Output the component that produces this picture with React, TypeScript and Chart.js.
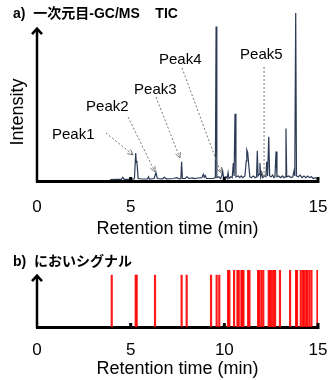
import React, { useEffect, useRef } from 'react';
import { Chart, registerables } from 'chart.js';

Chart.register(...registerables);

// ---- Data ----
const X_TICKS = [0, 5, 10, 15];

// TIC chromatogram (retention time in min, relative intensity %)
const TIC_TIME = [
  3.90, 4.20, 4.50, 4.58, 4.65, 5.00, 5.20, 5.27, 5.30, 5.33, 5.40, 5.60, 5.90, 5.95, 6.00,
  6.25, 6.35, 6.42, 6.70, 6.80, 6.90, 7.30, 7.45, 7.60, 7.68, 7.72, 7.76, 7.90, 8.00, 8.10,
  8.30, 8.40, 8.60, 8.80, 8.88, 8.93, 8.98, 9.05, 9.40, 9.52, 9.56, 9.60, 9.70, 9.80, 9.86,
  9.91, 9.96, 10.10, 10.15, 10.20, 10.25, 10.35, 10.42, 10.48, 10.52, 10.57, 10.62, 10.75, 10.82, 10.90,
  10.98, 11.10, 11.17, 11.20, 11.25, 11.30, 11.36, 11.45, 11.55, 11.65, 11.72, 11.76, 11.80, 11.86, 11.90,
  11.94, 11.99, 12.04, 12.15, 12.22, 12.26, 12.31, 12.37, 12.42, 12.50, 12.58, 12.65, 12.70, 12.76, 12.81,
  12.90, 13.00, 13.10, 13.18, 13.25, 13.29, 13.33, 13.45, 13.55, 13.65, 13.72, 13.76, 13.81, 13.85, 13.95,
  14.05, 14.15, 14.25, 14.35, 14.45, 14.55, 14.65, 14.75, 14.85, 14.93,
];
const TIC_INTENSITY = [
  0.8, 1.0, 1.0, 2.2, 1.0, 1.0, 1.3, 16.7, 11, 12, 1.5, 1.2, 1.2, 2.5, 1.2,
  1.5, 5, 1.5, 1.3, 2.2, 1.3, 1.5, 2, 1.3, 1.5, 11.5, 1.5, 1.5, 2.5, 1.5,
  1.8, 1.4, 1.8, 2, 4, 2.2, 3.2, 1.5, 1.5, 2, 92, 2, 2.5, 1.5, 3,
  6, 2, 2.5, 1.5, 5, 1.5, 2.5, 2, 10.7, 3, 40, 2.5, 3, 2, 3,
  2, 3, 12, 18.5, 16.7, 10, 2.5, 2, 3, 2, 2.5, 18, 3, 4, 10.7,
  2.5, 5, 2, 3, 2.5, 11.5, 3, 26.4, 3, 2.5, 3.5, 2, 2.5, 17.5, 2.5,
  3, 2, 3, 2, 2.5, 31.3, 2.5, 3, 2, 2.5, 6, 3, 100, 3, 2.5,
  3.5, 2, 3, 2, 3, 2, 2.5, 1.5, 2, 1.5,
];

// Odour signals (retention time in min, signal level)
const ODOR_TIME = [
  3.99, 5.27, 5.32, 6.30, 7.72, 7.99, 9.29, 9.59, 9.73,
  10.20, 10.27, 10.52, 10.70, 10.77, 10.91, 10.96, 11.02, 11.27, 11.34,
  11.80, 11.87, 11.98, 12.08, 12.37, 12.44, 12.53, 12.62, 12.71, 12.97,
  13.51, 13.83, 13.88, 14.08, 14.19, 14.26, 14.37, 14.43, 14.54, 14.65, 14.97,
];
const ODOR_LEVEL = [
  0.91, 0.91, 0.91, 0.91, 0.91, 0.91, 0.91, 0.91, 0.91,
  1, 1, 1, 1, 1, 1, 1, 1, 1, 1,
  1, 1, 1, 1, 1, 1, 1, 1, 1, 1,
  1, 1, 1, 1, 1, 1, 1, 1, 1, 1, 1,
];

const PEAK_NAMES = ['Peak1', 'Peak2', 'Peak3', 'Peak4', 'Peak5'];

// Annotation layout (data units): text anchor, arrow start, arrow end
const PEAK_LAYOUT = [
  { tx: 0.8, ty: 27.4, fx: 3.68, fy: 28.6, ex: 5.13, ey: 15.5 },
  { tx: 2.62, ty: 44.3, fx: 4.86, fy: 38.1, ex: 6.3, ey: 5.4 },
  { tx: 5.18, ty: 54.2, fx: 6.35, fy: 50, ex: 7.63, ey: 13.7 },
  { tx: 6.51, ty: 72, fx: 7.74, fy: 67.3, ex: 9.82, ey: 4.8 },
  { tx: 10.84, ty: 75, fx: 12.12, fy: 67.9, ex: 12.12, ey: 2.4 },
];

const FONT = '"Liberation Sans", Arial, "Noto Sans CJK JP", sans-serif';
Chart.defaults.font.family = FONT;
Chart.defaults.color = '#000';

function drawAxisDecor(chart: any, arrowTop: number, title: string, titleY: number) {
  const { ctx, scales } = chart;
  const x = scales.x;
  const y = scales.y;
  ctx.save();
  ctx.fillStyle = '#000';
  ctx.strokeStyle = '#000';
  ctx.font = 'bold 14px ' + FONT;
  ctx.textAlign = 'left';
  ctx.textBaseline = 'middle';
  ctx.fillText(title, 13, titleY);
  const x0 = x.getPixelForValue(0);
  const yb = y.getPixelForValue(0);
  const yt = y.getPixelForValue(arrowTop);
  ctx.lineWidth = 2.5;
  ctx.lineCap = 'butt';
  ctx.beginPath();
  ctx.moveTo(x0, yb + 1);
  ctx.lineTo(x0, yt + 1);
  ctx.stroke();
  ctx.lineJoin = 'miter';
  ctx.beginPath();
  ctx.moveTo(x0 - 5, yt + 6);
  ctx.lineTo(x0, yt + 0.5);
  ctx.lineTo(x0 + 5, yt + 6);
  ctx.stroke();
  [5, 10, 15].forEach((v) => {
    const px = x.getPixelForValue(v);
    ctx.fillRect(px - 1.5, yb - 4, 3, 6);
  });
  ctx.restore();
}

const ticPlugin = {
  id: 'ticDecor',
  afterDraw(chart: any) {
    drawAxisDecor(chart, 91, 'a)  一次元目-GC/MS    TIC', 14);
    const { ctx, scales } = chart;
    const x = scales.x;
    const y = scales.y;
    ctx.save();
    ctx.font = '15px ' + FONT;
    ctx.fillStyle = '#000';
    ctx.textAlign = 'left';
    ctx.textBaseline = 'middle';
    PEAK_LAYOUT.forEach((p, i) => {
      ctx.fillText(PEAK_NAMES[i], x.getPixelForValue(p.tx), y.getPixelForValue(p.ty));
      const fx = x.getPixelForValue(p.fx);
      const fy = y.getPixelForValue(p.fy);
      const ex = x.getPixelForValue(p.ex);
      const ey = y.getPixelForValue(p.ey);
      ctx.strokeStyle = '#777';
      ctx.lineWidth = 1;
      ctx.setLineDash([2, 2]);
      ctx.beginPath();
      ctx.moveTo(fx, fy);
      ctx.lineTo(ex, ey);
      ctx.stroke();
      ctx.setLineDash([]);
      const ang = Math.atan2(ey - fy, ex - fx);
      const len = 6;
      ctx.beginPath();
      ctx.moveTo(ex - len * Math.cos(ang - 0.45), ey - len * Math.sin(ang - 0.45));
      ctx.lineTo(ex, ey);
      ctx.lineTo(ex - len * Math.cos(ang + 0.45), ey - len * Math.sin(ang + 0.45));
      ctx.stroke();
    });
    ctx.restore();
  },
};

const odorPlugin = {
  id: 'odorDecor',
  afterDraw(chart: any) {
    drawAxisDecor(chart, 0.91, 'b)  においシグナル', 22);
  },
};

function xScale(tickPad: number, height: number) {
  return {
    type: 'linear' as const,
    min: 0,
    max: 15,
    offset: false,
    afterBuildTicks(scale: any) {
      scale.ticks = X_TICKS.map((v) => ({ value: v }));
    },
    afterFit(scale: any) {
      scale.height = height;
      scale.paddingLeft = 0;
      scale.paddingRight = 0;
    },
    grid: { display: false, drawTicks: false, offset: false },
    border: { display: true, color: '#000', width: 3 },
    ticks: { font: { size: 17 }, color: '#000', padding: tickPad, maxRotation: 0 },
    title: {
      display: true,
      text: 'Retention time (min)',
      font: { size: 18 },
      color: '#000',
      padding: { top: 0, bottom: 0 },
    },
  };
}

function TicChart() {
  const ref = useRef<HTMLCanvasElement>(null);
  useEffect(() => {
    if (!ref.current) return;
    const chart = new Chart(ref.current, {
      type: 'line',
      data: {
        datasets: [
          {
            data: TIC_TIME.map((t, i) => ({ x: t, y: TIC_INTENSITY[i] })),
            borderColor: '#2b3a55',
            borderWidth: 1.2,
            pointRadius: 0,
            tension: 0,
          },
        ],
      },
      options: {
        animation: false,
        responsive: false,
        devicePixelRatio: 1,
        layout: { padding: { top: 13, right: 15, left: 0, bottom: 0 } },
        plugins: { legend: { display: false }, tooltip: { enabled: false } },
        scales: {
          x: xScale(16, 59),
          y: {
            min: 0,
            max: 100,
            afterFit(scale: any) {
              scale.width = 37;
            },
            grid: { display: false, drawTicks: false },
            border: { display: false },
            ticks: { display: false },
            title: {
              display: true,
              text: 'Intensity      ',
              font: { size: 18 },
              color: '#000',
              padding: { top: 7, bottom: 0 },
            },
          },
        },
      },
      plugins: [ticPlugin],
    });
    return () => chart.destroy();
  }, []);
  return <canvas ref={ref} width={333} height={240} style={{ display: 'block' }} />;
}

function OdorChart() {
  const ref = useRef<HTMLCanvasElement>(null);
  useEffect(() => {
    if (!ref.current) return;
    const chart = new Chart(ref.current, {
      type: 'bar',
      data: {
        datasets: [
          {
            data: ODOR_TIME.map((t, i) => ({ x: t, y: ODOR_LEVEL[i] })),
            backgroundColor: 'rgba(255,0,0,0.9)',
            borderWidth: 0,
            barThickness: 1.5,
          },
        ],
      },
      options: {
        animation: false,
        responsive: false,
        devicePixelRatio: 1,
        layout: { padding: { top: 30, right: 15, left: 0, bottom: 0 } },
        plugins: { legend: { display: false }, tooltip: { enabled: false } },
        scales: {
          x: xScale(13, 53),
          y: {
            min: 0,
            max: 1,
            afterFit(scale: any) {
              scale.width = 37;
            },
            grid: { display: false, drawTicks: false },
            border: { display: false },
            ticks: { display: false },
          },
        },
      },
      plugins: [odorPlugin],
    });
    return () => chart.destroy();
  }, []);
  return <canvas ref={ref} width={333} height={140} style={{ display: 'block' }} />;
}

export default function App() {
  return (
    <div style={{ position: 'absolute', left: 0, top: 0, width: 333, height: 380, background: '#fff' }}>
      <TicChart />
      <OdorChart />
    </div>
  );
}
